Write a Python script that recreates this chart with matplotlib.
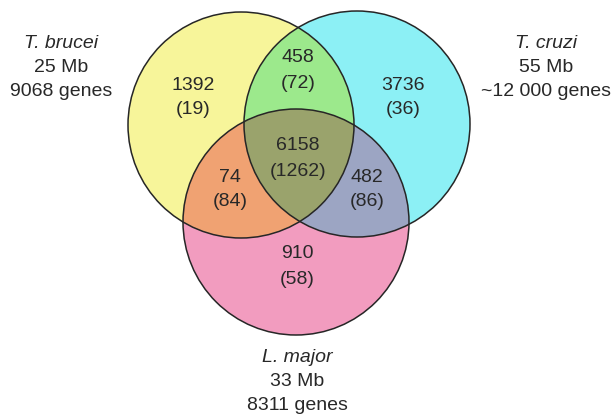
import numpy as np
import matplotlib.pyplot as plt

# Gene counts per region: (shared orthologous clusters, species-specific in brackets)
region_names = ["brucei", "cruzi", "major", "brucei_cruzi", "brucei_major", "cruzi_major", "all"]
region_counts = [1392, 3736, 910, 458, 74, 482, 6158]
region_bracket = [19, 36, 58, 72, 84, 86, 1262]

species = ["T. brucei", "T. cruzi", "L. major"]
genome_size = ["25 Mb", "55 Mb", "33 Mb"]
gene_totals = ["9068 genes", "~12 000 genes", "8311 genes"]

# layout in pixel units (y downwards)
centers = {"brucei": (241, 125), "cruzi": (357, 124), "major": (296, 222)}
radius = 113
label_pos = {
    "brucei": (193, 85), "cruzi": (403, 85), "major": (297, 254),
    "brucei_cruzi": (298, 58), "brucei_major": (230, 177),
    "cruzi_major": (367, 177), "all": (298, 146),
}
species_pos = [(61, 43), (546, 43), (297, 358)]

colors = {
    "brucei": "#f7f59a", "cruzi": "#8cf0f5", "major": "#f29cbf",
    "brucei_cruzi": "#9ce98c", "brucei_major": "#f0a272",
    "cruzi_major": "#9ca5c3", "all": "#9aa36c",
}
text_color = "#282828"


def circle_poly(c, r, n=720):
    t = np.linspace(0, 2 * np.pi, n, endpoint=False)
    return np.column_stack([c[0] + r * np.cos(t), c[1] + r * np.sin(t)])


def clip(subject, clipper):
    # Sutherland-Hodgman, both convex; clipper counter-clockwise in data coords
    out = list(subject)
    m = len(clipper)
    for i in range(m):
        a, b = clipper[i], clipper[(i + 1) % m]
        inp, out = out, []
        if not inp:
            break
        def inside(p):
            return (b[0] - a[0]) * (p[1] - a[1]) - (b[1] - a[1]) * (p[0] - a[0]) >= 0
        def cross(p, q):
            d1 = p - q
            d2 = a - b
            den = d1[0] * d2[1] - d1[1] * d2[0]
            tt = ((p[0] - a[0]) * d2[1] - (p[1] - a[1]) * d2[0]) / den
            return p - tt * d1
        s = inp[-1]
        for e in inp:
            if inside(e):
                if not inside(s):
                    out.append(cross(s, e))
                out.append(e)
            elif inside(s):
                out.append(cross(s, e))
            s = e
    return np.array(out)


fig = plt.figure(figsize=(6.14, 4.2), dpi=100)
ax = fig.add_axes([0, 0, 1, 1])
ax.set_xlim(0, 614)
ax.set_ylim(420, 0)
ax.axis("off")

polys = {k: circle_poly(v, radius) for k, v in centers.items()}
for k in ["brucei", "cruzi", "major"]:
    ax.fill(polys[k][:, 0], polys[k][:, 1], color=colors[k], lw=0)
for k in ["brucei_cruzi", "brucei_major", "cruzi_major"]:
    a, b = k.split("_")
    p = clip(polys[a], polys[b])
    ax.fill(p[:, 0], p[:, 1], color=colors[k], lw=0)
p = clip(clip(polys["brucei"], polys["cruzi"]), polys["major"])
ax.fill(p[:, 0], p[:, 1], color=colors["all"], lw=0)

for k in ["brucei", "cruzi", "major"]:
    ax.add_patch(plt.Circle(centers[k], radius, fill=False, ec="#262626", lw=1.1))

font = dict(family="Liberation Sans", fontsize=14, color=text_color,
            ha="center", va="center")
for name, n, b in zip(region_names, region_counts, region_bracket):
    x, y = label_pos[name]
    ax.text(x, y, str(n), **font)
    ax.text(x, y + 25, f"({b})", **font)

for (x, y), sp, gs, gt in zip(species_pos, species, genome_size, gene_totals):
    ax.text(x, y, sp, style="italic", **font)
    ax.text(x, y + 24, gs, **font)
    ax.text(x, y + 48, gt, **font)

fig.savefig("out.png", dpi=100)
